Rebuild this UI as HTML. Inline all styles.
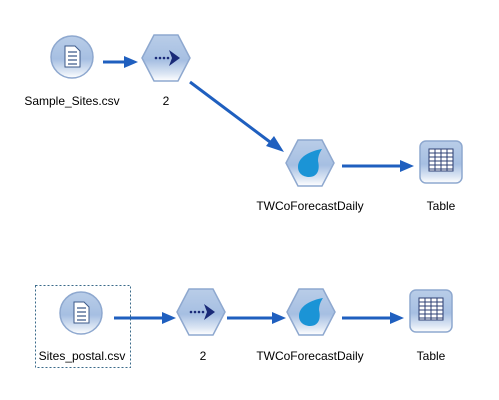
<!DOCTYPE html>
<html><head><meta charset="utf-8">
<style>
html,body{margin:0;padding:0;background:#fff;}
svg{display:block;}
text{font-family:"Liberation Sans",Arial,sans-serif;font-size:12px;fill:#000;text-anchor:middle;}
</style></head><body>
<svg width="499" height="400" viewBox="0 0 499 400" xmlns="http://www.w3.org/2000/svg">
<defs>
<linearGradient id="g" x1="0" y1="0" x2="0" y2="1">
<stop offset="0" stop-color="#b9cde8"/>
<stop offset="0.55" stop-color="#a6bfe2"/>
<stop offset="0.85" stop-color="#dde7f4"/>
<stop offset="1" stop-color="#ffffff"/>
</linearGradient>
<marker id="a" markerWidth="8" markerHeight="8" refX="7" refY="4" orient="auto" markerUnits="userSpaceOnUse">
</marker>
<g id="circ">
<circle cx="0" cy="0" r="21" fill="url(#g)" stroke="#8ea8cf" stroke-width="1.5"/>
<path d="M-7,-11 h10 l5,5 v16 h-15 z" fill="#fff" stroke="#3d5a8a" stroke-width="1"/>
<path d="M-4,-5 h9 M-4,-1 h9 M-4,3 h9 M-4,7 h9" stroke="#3d5a8a" stroke-width="1.2"/>
</g>
<g id="hex">
<polygon points="-12,-23 12,-23 24,0 12,23 -12,23 -24,0" fill="url(#g)" stroke="#8ea8cf" stroke-width="1.5"/>
</g>
<g id="tab">
<rect x="-21" y="-21" width="42" height="42" rx="6" fill="url(#g)" stroke="#8ea8cf" stroke-width="1.5"/>
<rect x="-12" y="-13" width="24" height="22" fill="#fff" stroke="#2c3f73" stroke-width="1"/>
<path d="M-12,-9 h24 M-12,-5 h24 M-12,-1 h24 M-12,3 h24 M-12,7 h24 M-6,-13 v22 M0,-13 v22 M6,-13 v22" stroke="#2c3f73" stroke-width="1"/>
</g>
<g id="arr">
<use href="#hex"/>
<circle cx="-10" cy="0" r="1.3" fill="#1a2a78"/><circle cx="-6" cy="0" r="1.3" fill="#1a2a78"/><circle cx="-2" cy="0" r="1.3" fill="#1a2a78"/><circle cx="2" cy="0" r="1.3" fill="#1a2a78"/>
<polygon points="3,-8 14,0 3,8 6,0" fill="#1a2a78"/>
</g>
<g id="drop">
<use href="#hex"/>
<path d="M12,-14 C5,-13 -12,-8 -12,4 C-12,11 -6,14 -1,14 C8,14 10,6 8,-2 C8,-7 10,-11 12,-14 z" fill="#1b94d6"/>
</g>
</defs>

<g stroke="#1f5fbf" stroke-width="3" fill="none">
<line x1="103" y1="62" x2="128" y2="62"/>
<line x1="190" y1="82" x2="274" y2="145"/>
<line x1="342" y1="166" x2="404" y2="166"/>
<line x1="114" y1="318" x2="166" y2="318"/>
<line x1="227" y1="318" x2="276" y2="318"/>
<line x1="342" y1="318" x2="394" y2="318"/>
</g>
<g fill="#1f5fbf">
<polygon points="138,62 124,56 124,68"/>
<polygon points="284,152 266,146 274,136"/>
<polygon points="414,166 400,160 400,172"/>
<polygon points="176,318 162,312 162,324"/>
<polygon points="286,318 272,312 272,324"/>
<polygon points="404,318 390,312 390,324"/>
</g>

<use href="#circ" x="72" y="57"/>
<use href="#arr" x="166" y="58"/>
<use href="#drop" x="310" y="163"/>
<use href="#tab" x="441" y="162"/>

<rect x="35.5" y="285.5" width="95" height="82" fill="none" stroke="#3a6a8a" stroke-width="1" stroke-dasharray="2,2"/>
<use href="#circ" x="81" y="313"/>
<use href="#arr" x="201" y="312"/>
<use href="#drop" x="311" y="312"/>
<use href="#tab" x="431" y="311"/>

<text x="72" y="105">Sample_Sites.csv</text>
<text x="166" y="105">2</text>
<text x="310" y="210">TWCoForecastDaily</text>
<text x="441" y="210">Table</text>
<text x="82" y="360">Sites_postal.csv</text>
<text x="203" y="360">2</text>
<text x="310" y="360">TWCoForecastDaily</text>
<text x="431" y="360">Table</text>
</svg>
</body></html>
